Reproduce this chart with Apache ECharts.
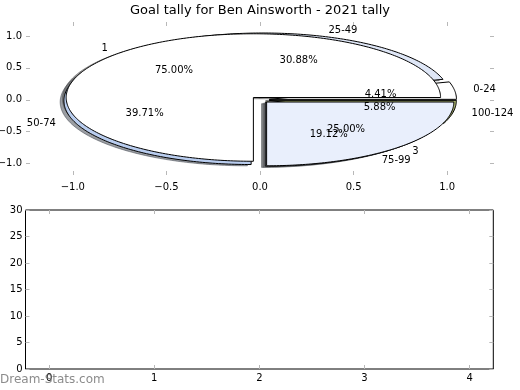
<!DOCTYPE html>
<html><head><meta charset="utf-8">
<script src="https://cdn.jsdelivr.net/npm/echarts@6/dist/echarts.min.js"></script>
<style>html,body{margin:0;padding:0;background:#fff}#c{width:520px;height:390px}</style>
</head><body><div id="c"></div>
<script>
// ---- data ----
const titleText = 'Goal tally for Ben Ainsworth - 2021 tally';
// first pie (drawn underneath): minute ranges
const rangeLabels = ['0-24', '25-49', '50-74', '75-99', '100-124'];
const rangeValues = [3, 21, 27, 13, 4];
const rangeColors = ['#ffffff', '#dfe7f7', '#b9cdef', '#dde6f8', '#a4ad6c'];
// second pie (drawn on top)
const halfLabels = ['1', '3'];
const halfValues = [51, 17];
const halfColors = ['#ffffff', '#e9effc'];
// tick labels
const pieTicks = [-1.0, -0.5, 0.0, 0.5, 1.0];
const barCategories = [0, 1, 2, 3, 4];
const barValues = [0, 0, 0, 0, 0];

const FONT = 'DejaVu Sans';
const EXPLODE = 0.05, RADIUS = 1, LABEL_DIST = 1.1, PCT_DIST = 0.6;

function buildSlices(labels, values, colors) {
  const total = values.reduce((a, b) => a + b, 0);
  let start = 0;
  return values.map((v, i) => {
    const span = 360 * v / total;
    const t1 = start, t2 = start + span;
    start = t2;
    const m = (t1 + t2) / 2 * Math.PI / 180;
    const cx = EXPLODE * Math.cos(m), cy = EXPLODE * Math.sin(m);
    const lx = cx + LABEL_DIST * RADIUS * Math.cos(m);
    const ly = cy + LABEL_DIST * RADIUS * Math.sin(m);
    return {
      label: labels[i], pct: (100 * v / total).toFixed(2) + '%', color: colors[i],
      t1, t2, cx, cy, r: RADIUS,
      lx, ly, align: lx > 0 ? 'left' : 'right',
      px: cx + PCT_DIST * RADIUS * Math.cos(m), py: cy + PCT_DIST * RADIUS * Math.sin(m)
    };
  });
}
const slices = buildSlices(rangeLabels, rangeValues, rangeColors)
  .concat(buildSlices(halfLabels, halfValues, halfColors));

function wedge(s, dx, dy) {
  const cx = s.cx + dx, cy = s.cy + dy;
  const pts = [[cx, cy]];
  const n = Math.max(2, Math.ceil(s.t2 - s.t1));
  for (let k = 0; k <= n; k++) {
    const t = (s.t1 + (s.t2 - s.t1) * k / n) * Math.PI / 180;
    pts.push([cx + s.r * Math.cos(t), cy + s.r * Math.sin(t)]);
  }
  return pts;
}
function shadowColor(hex) {
  const r = parseInt(hex.slice(1, 3), 16), g = parseInt(hex.slice(3, 5), 16), b = parseInt(hex.slice(5, 7), 16);
  return 'rgba(' + Math.round(r * 0.3) + ',' + Math.round(g * 0.3) + ',' + Math.round(b * 0.3) + ',0.5)';
}
const fmt = v => (v < 0 ? '\u2212' : '') + Math.abs(v).toFixed(1);

const tickStyle = { color: '#b8b8b8', width: 1 };
function axisCommon(extra) {
  return Object.assign({
    type: 'value', splitLine: { show: false }, axisLine: { show: false, onZero: false }
  }, extra);
}
const chart = echarts.init(document.getElementById('c'), null, { renderer: 'canvas' });
const sliceData = slices.map((s, i) => [0, 0, i]);

chart.setOption({
  animation: false,
  backgroundColor: '#ffffff',
  title: { text: titleText, left: 'center', top: 4, padding: 0,
    textStyle: { fontSize: 13, fontWeight: 'normal', color: '#000', fontFamily: FONT } },
  grid: [
    { left: 26, top: 22, width: 468, height: 153, show: false, containLabel: false, outerBoundsMode: 'none' },
    { left: 25.5, top: 210, width: 467.8, height: 159, show: true, borderColor: '#000', borderWidth: 1,
      backgroundColor: 'rgba(0,0,0,0)', containLabel: false, outerBoundsMode: 'none' }
  ],
  xAxis: [
    axisCommon({ gridIndex: 0, position: 'bottom', min: -1.25, max: 1.25,
      axisTick: { inside: true, length: 4, lineStyle: tickStyle, customValues: pieTicks },
      axisLabel: { customValues: pieTicks, formatter: fmt, fontSize: 10, color: '#000', fontFamily: FONT, margin: 7 } }),
    axisCommon({ gridIndex: 0, position: 'top', min: -1.25, max: 1.25,
      axisTick: { inside: true, length: 4, lineStyle: tickStyle, customValues: pieTicks },
      axisLabel: { show: false } }),
    axisCommon({ gridIndex: 1, position: 'bottom', min: -0.225, max: 4.225,
      axisTick: { inside: true, length: 4, lineStyle: tickStyle, customValues: barCategories },
      axisLabel: { customValues: barCategories, formatter: v => String(v), fontSize: 10, color: '#000', fontFamily: FONT, margin: 4 } }),
    axisCommon({ gridIndex: 1, position: 'top', min: -0.225, max: 4.225,
      axisTick: { inside: true, length: 4, lineStyle: tickStyle, customValues: barCategories },
      axisLabel: { show: false } })
  ],
  yAxis: [
    axisCommon({ gridIndex: 0, position: 'left', min: -1.18, max: 1.22,
      axisTick: { inside: true, length: 4, lineStyle: tickStyle, customValues: pieTicks },
      axisLabel: { customValues: pieTicks, formatter: fmt, fontSize: 10, color: '#000', fontFamily: FONT, margin: 4 } }),
    axisCommon({ gridIndex: 0, position: 'right', min: -1.18, max: 1.22,
      axisTick: { inside: true, length: 4, lineStyle: tickStyle, customValues: pieTicks },
      axisLabel: { show: false } }),
    axisCommon({ gridIndex: 1, position: 'left', min: 0, max: 30, interval: 5,
      axisTick: { inside: true, length: 4, lineStyle: tickStyle },
      axisLabel: { fontSize: 10, color: '#000', fontFamily: FONT, margin: 3 } }),
    axisCommon({ gridIndex: 1, position: 'right', min: 0, max: 30, interval: 5,
      axisTick: { inside: true, length: 4, lineStyle: tickStyle },
      axisLabel: { show: false } })
  ],
  graphic: [
    { type: 'text', left: 0, top: 374, z: 100,
      style: { text: 'Dream-Stats.com', fill: 'rgba(110,110,110,0.8)', font: '12px "DejaVu Sans"' } }
  ],
  series: [
    { type: 'custom', name: 'shadows', xAxisIndex: 0, yAxisIndex: 0, z: 1, clip: false,
      data: sliceData, encode: { x: 0, y: 1 },
      renderItem: (params, api) => {
        const s = slices[api.value(2)];
        const c = shadowColor(s.color);
        return { type: 'polygon', shape: { points: wedge(s, -0.02, -0.02).map(p => api.coord(p)) },
          style: { fill: c, stroke: c, lineWidth: 1 } };
      } },
    { type: 'custom', name: 'wedges', xAxisIndex: 0, yAxisIndex: 0, z: 2, clip: false,
      data: sliceData, encode: { x: 0, y: 1 },
      renderItem: (params, api) => {
        const s = slices[api.value(2)];
        return { type: 'polygon', shape: { points: wedge(s, 0, 0).map(p => api.coord(p)) },
          style: { fill: s.color, stroke: '#000', lineWidth: 1, lineJoin: 'miter' } };
      } },
    { type: 'custom', name: 'labels', xAxisIndex: 0, yAxisIndex: 0, z: 3, clip: false,
      data: sliceData, encode: { x: 0, y: 1 },
      renderItem: (params, api) => {
        const s = slices[api.value(2)];
        const a = api.coord([s.lx, s.ly]), b = api.coord([s.px, s.py]);
        return { type: 'group', children: [
          { type: 'text', x: a[0], y: a[1], style: { text: s.label, fill: '#000', font: '10px "DejaVu Sans"', align: s.align, verticalAlign: 'middle' } },
          { type: 'text', x: b[0], y: b[1], style: { text: s.pct, fill: '#000', font: '10px "DejaVu Sans"', align: 'center', verticalAlign: 'middle' } }
        ] };
      } },
    { type: 'bar', name: 'goals', xAxisIndex: 2, yAxisIndex: 2,
      data: barCategories.map((c, i) => [c, barValues[i]]), barWidth: '45%', itemStyle: { color: '#4f81bd' } }
  ]
});
</script></body></html>
